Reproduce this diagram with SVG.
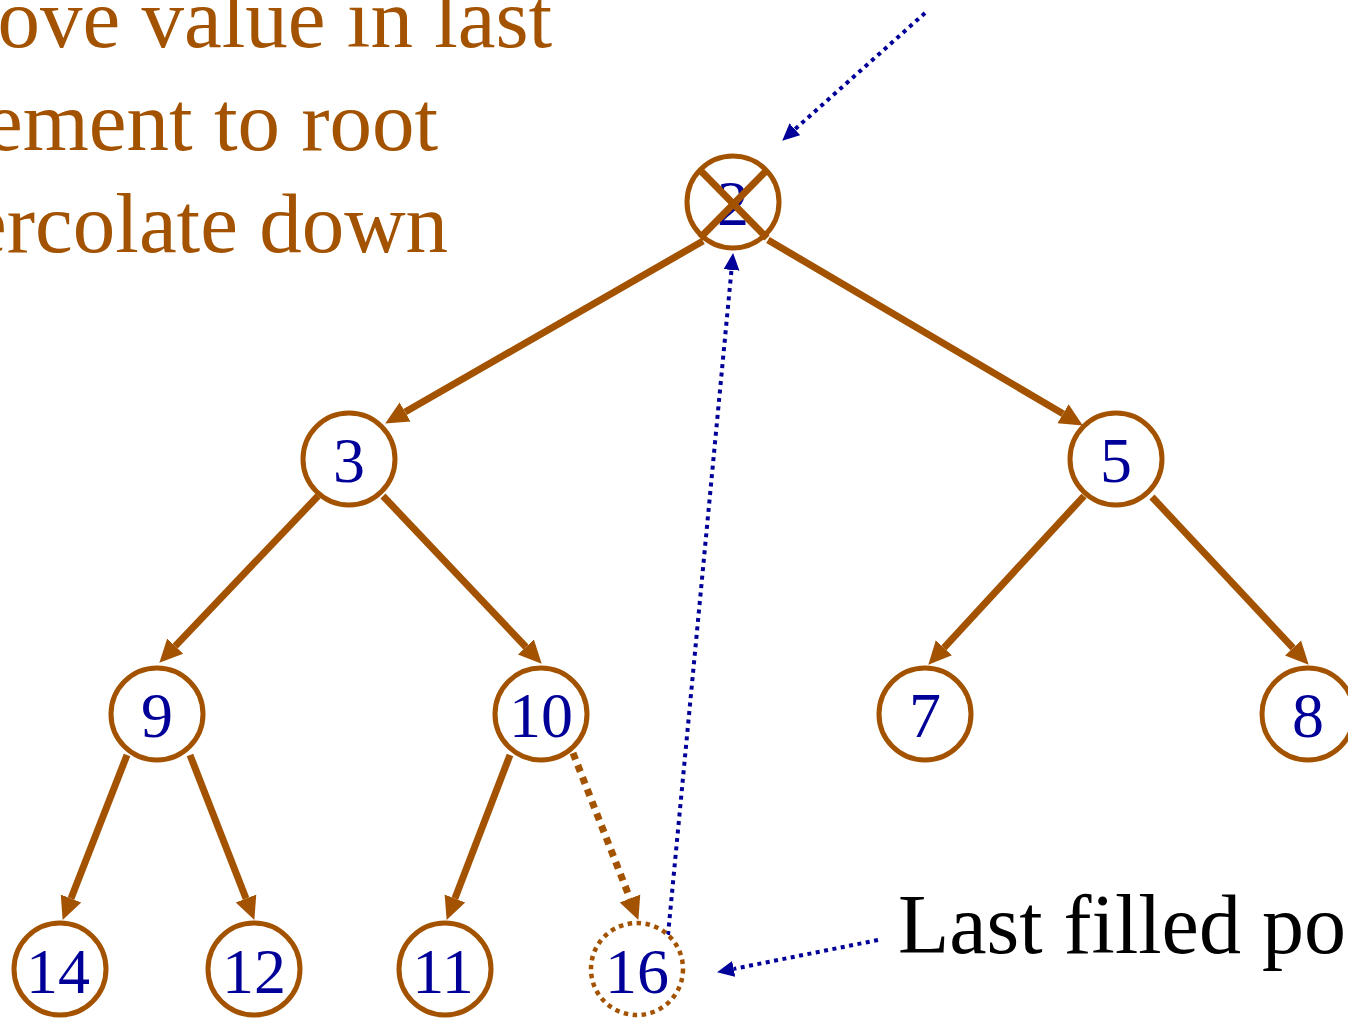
<svg xmlns="http://www.w3.org/2000/svg" width="1348" height="1019" viewBox="0 0 1348 1019">
<style>
.node{fill:#fff;stroke:#A35200;stroke-width:5}
.dotnode{fill:#fff;stroke:#A35200;stroke-width:4.5;stroke-dasharray:4.5 4.5}
.num{font-family:"Liberation Serif","Times New Roman",serif;font-size:64px;fill:#000099;text-anchor:middle}
.edge{stroke:#A35200;stroke-width:7;fill:none}
.dedge{stroke:#A35200;stroke-width:7;fill:none;stroke-dasharray:7 6}
.bdot{stroke:#000099;stroke-width:4;fill:none;stroke-dasharray:4 4.5}
.note{font-family:"Liberation Serif","Times New Roman",serif;font-size:85px;fill:#A35200}
.label{font-family:"Liberation Serif","Times New Roman",serif;font-size:84px;fill:#000}
</style>
<defs>
<marker id="ab" markerUnits="userSpaceOnUse" markerWidth="26" markerHeight="24" viewBox="0 -12 26 24" refX="0" refY="0" orient="auto"><path d="M0,-11 L23,0 L0,11 z" fill="#A35200"/></marker>
<marker id="ak" markerUnits="userSpaceOnUse" markerWidth="18" markerHeight="18" viewBox="0 -9 18 18" refX="0" refY="0" orient="auto"><path d="M0,-8 L17,0 L0,8 z" fill="#000099"/></marker>
</defs>
<text class="note" x="-2.5" y="47">ove value in last</text>
<text class="note" x="-15" y="150">ement to root</text>
<text class="note" x="-31" y="252">ercolate down</text>
<text class="label" x="898" y="953">Last filled po</text>
<g id="connectors">
<line class="edge" x1="703" y1="241" x2="405.1" y2="412" marker-end="url(#ab)"/>
<line class="edge" x1="768" y1="240" x2="1063" y2="413.8" marker-end="url(#ab)"/>
<line class="edge" x1="318" y1="496" x2="175.2" y2="646.1" marker-end="url(#ab)"/>
<line class="edge" x1="383" y1="496" x2="525.9" y2="647" marker-end="url(#ab)"/>
<line class="edge" x1="1084" y1="496" x2="943.9" y2="647.8" marker-end="url(#ab)"/>
<line class="edge" x1="1152" y1="497" x2="1293" y2="647.9" marker-end="url(#ab)"/>
<line class="edge" x1="127" y1="755" x2="71" y2="898.5" marker-end="url(#ab)"/>
<line class="edge" x1="190" y1="755" x2="246" y2="898.5" marker-end="url(#ab)"/>
<line class="edge" x1="510" y1="755" x2="454.9" y2="898.5" marker-end="url(#ab)"/>
<line class="dedge" x1="573" y1="753" x2="630" y2="898.5" marker-end="url(#ab)"/>
<line class="bdot" x1="925" y1="13" x2="794.9" y2="129.3" marker-end="url(#ak)"/>
<line class="bdot" x1="668" y1="935" x2="731.5" y2="269.9" marker-end="url(#ak)"/>
<line class="bdot" x1="878" y1="940" x2="733.7" y2="968.9" marker-end="url(#ak)"/>
</g>
<g id="node-2">
<circle class="node" cx="733" cy="202" r="46"/>
<text class="num" x="733" y="225">2</text>
<line class="edge" x1="700" y1="170" x2="767" y2="238"/>
<line class="edge" x1="767" y1="170" x2="700" y2="238"/>
</g>
<g id="node-3"><circle class="node" cx="349" cy="459" r="46"/><text class="num" x="349" y="482">3</text></g>
<g id="node-5"><circle class="node" cx="1116" cy="459" r="46"/><text class="num" x="1116" y="482">5</text></g>
<g id="node-9"><circle class="node" cx="157" cy="714" r="46"/><text class="num" x="157" y="737">9</text></g>
<g id="node-10"><circle class="node" cx="541" cy="714" r="46"/><text class="num" x="541" y="737">10</text></g>
<g id="node-7"><circle class="node" cx="925" cy="714" r="46"/><text class="num" x="925" y="737">7</text></g>
<g id="node-8"><circle class="node" cx="1308" cy="714" r="46"/><text class="num" x="1308" y="737">8</text></g>
<g id="node-14"><circle class="node" cx="60" cy="969" r="46"/><text class="num" x="58" y="993">14</text></g>
<g id="node-12"><circle class="node" cx="254" cy="969" r="46"/><text class="num" x="254" y="993">12</text></g>
<g id="node-11"><circle class="node" cx="445" cy="969" r="46"/><text class="num" x="443" y="993">11</text></g>
<g id="node-16"><circle class="dotnode" cx="637" cy="969" r="46"/><text class="num" x="637" y="993">16</text></g>
</svg>
